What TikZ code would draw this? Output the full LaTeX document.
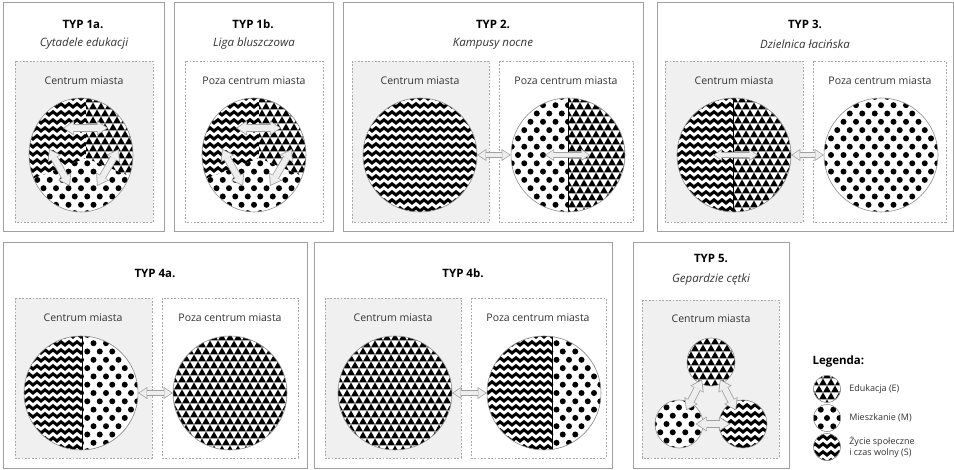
\documentclass[tikz,border=0pt]{standalone}
\usepackage{fontspec}
\setmainfont{Open Sans}
\usepackage{tikz}
\usetikzlibrary{shapes.geometric, arrows.meta, positioning, calc}

\definecolor{boxline}{HTML}{A0A0A0}
\definecolor{dashline}{HTML}{A8A8A8}
\definecolor{cityfill}{HTML}{F0F0F0}
\definecolor{ringline}{HTML}{8C8C8C}
\definecolor{flowline}{HTML}{A0A0A0}
\definecolor{flowfill}{HTML}{EEEEEE}
\definecolor{darktext}{HTML}{333333}

\tikzset{
  bigtip/.tip={Triangle[length=9pt,width=12pt,line width=0pt]},
  smalltip/.tip={Triangle[length=7pt,width=9.4pt,line width=0pt]},
  hugetip/.tip={Triangle[length=11pt,width=15pt,line width=0pt]},
  innertip/.tip={Triangle[length=9pt,width=12.2pt,line width=0pt]}
}

% pattern fills: centre x, centre y, half number of repeats
\newcommand{\patzig}[3]{%
  \begin{scope}[shift={(#1,#2)}]
    \fill[white] ({-9*#3},{-9*#3}) rectangle ({9*#3},{9*#3});
    \foreach \j in {-#3,...,#3}
      \draw[zigline] ({-8*#3-8},{8*\j}) \foreach \k in {-#3,...,#3} {-- ++(4,-3.2) -- ++(4,3.2)};
  \end{scope}}
\newcommand{\pattri}[3]{%
  \begin{scope}[shift={(#1,#2)}]
    \fill[white] ({-9*#3},{-9*#3}) rectangle ({9*#3},{9*#3});
    \foreach \j in {-#3,...,#3}
      \foreach \i in {-#3,...,#3}
        \fill ({8*\i+4*mod(abs(\j),2)-4},{7*\j+3.5}) -- ++(8,0) -- ++(-4,-7) -- cycle;
  \end{scope}}
\newcommand{\patdot}[3]{%
  \begin{scope}[shift={(#1,#2)}]
    \fill[white] ({-9*#3},{-9*#3}) rectangle ({9*#3},{9*#3});
    \foreach \j in {-#3,...,#3}
      \foreach \i in {-#3,...,#3}
        \fill ({12.5*\i+6.25*mod(abs(\j),2)},{8.3*\j}) circle (3pt);
  \end{scope}}

% one pattern in a disc: centre x, centre y, radius, pattern, repeats
\newcommand{\disc}[5]{%
  \begin{scope}
    \clip (#1,#2) circle (#3pt);
    #4{#1}{#2}{#5}
  \end{scope}}

% disc cut in two: centre x, centre y, radius, split x, left, right
\newcommand{\halves}[6]{%
  \begin{scope}
    \clip (#1,#2) circle (#3pt);
    #5{#1}{#2}{8}
    \begin{scope}
      \clip (#4,{#2-70}) rectangle ({#1+70},{#2+70});
      #6{#1}{#2}{8}
    \end{scope}
    \draw[split] (#4,{#2-70}) -- (#4,{#2+70});
  \end{scope}}

% disc cut in three (types 1a, 1b): name, centre x, centre y
\newcommand{\threeway}[3]{%
  \begin{scope}
    \clip (#2,#3) ellipse [x radius=52pt, y radius=57pt];
    \patdot{#2}{#3}{8}
    \begin{scope}
      \clip[shift={(#2,#3)}] (5,3) -- (5,-70) -- (-70,-70) -- (-70,32) -- cycle;
      \patzig{#2}{#3}{8}
    \end{scope}
    \begin{scope}
      \clip[shift={(#2,#3)}] (5,3) -- (5,-70) -- (70,-70) -- (70,30) -- cycle;
      \pattri{#2}{#3}{8}
    \end{scope}
  \end{scope}
  \node[ovalc] (c#1) at (#2,#3) {};
  \coordinate (zigE#1) at ([shift={(-18,-27)}]c#1.center);
  \coordinate (eduZ#1) at ([shift={(27,-27)}]c#1.center);
  \coordinate (zigM#1) at ([shift={(-32,-6)}]c#1.center);
  \coordinate (homZ#1) at ([shift={(-11,31)}]c#1.center);
  \coordinate (eduM#1) at ([shift={(38,-6)}]c#1.center);
  \coordinate (homE#1) at ([shift={(16,31)}]c#1.center);
  \draw[wideflow] (zigE#1) -- (eduZ#1);
  \draw[wideflow] (zigM#1) -- (homZ#1);
  \draw[wideflow] (eduM#1) -- (homE#1);}

\begin{document}
\begin{tikzpicture}[x=1pt, y=-1pt,
    panel/.style={draw=boxline, line width=0.9pt},
    city/.style={draw=dashline, fill=cityfill, line width=0.7pt, dash pattern=on 1.8pt off 1.6pt},
    outskirts/.style={city, fill=white},
    title/.style={font=\bfseries\fontsize{11.5}{13}\selectfont},
    subtitle/.style={font=\itshape\fontsize{11.5}{13}\selectfont, text=darktext},
    area/.style={font=\fontsize{10.5}{12}\selectfont, text=darktext},
    legtext/.style={font=\fontsize{9}{10.5}\selectfont, text=darktext, align=left},
    zigline/.style={black, line width=3pt},
    split/.style={black, line width=0.8pt},
    bigc/.style={circle, draw=ringline, line width=0.6pt, minimum size=114pt, inner sep=0pt},
    ovalc/.style={bigc, ellipse, minimum width=104pt, minimum height=114pt},
    smallc/.style={bigc, minimum size=48pt},
    legc/.style={bigc, minimum size=27pt},
    flow/.style={draw=flowline, line width=5.5pt, bigtip-bigtip,
      postaction={draw=flowfill, line width=3.9pt, shorten <=1.3pt, shorten >=1.3pt, smalltip-smalltip}},
    wideflow/.style={draw=flowline, line width=7.5pt, hugetip-hugetip,
      postaction={draw=flowfill, line width=5.9pt, shorten <=1.4pt, shorten >=1.4pt, innertip-innertip}}
]
\useasboundingbox (0,0) rectangle (954,470);
\fill[white] (0,0) rectangle (954,470);

% panels
\draw[panel] (3,2) rectangle (164,231);
\draw[panel] (174,2) rectangle (333,231);
\draw[panel] (343,2) rectangle (643,231);
\draw[panel] (657,2) rectangle (953,231);
\draw[panel] (3,242) rectangle (307,468);
\draw[panel] (314,242) rectangle (612,468);
\draw[panel] (633,242) rectangle (789,468);

% city centre / outskirts areas
\draw[city] (15,61) rectangle (153,222);
\draw[outskirts] (185,61) rectangle (323,222);
\draw[city] (352,61) rectangle (489,222);
\draw[outskirts] (499,61) rectangle (633,222);
\draw[city] (665,61) rectangle (803,222);
\draw[outskirts] (813,61) rectangle (946,222);
\draw[city] (15,298) rectangle (152,458);
\draw[outskirts] (162,298) rectangle (298,458);
\draw[city] (325,298) rectangle (461,458);
\draw[outskirts] (471,298) rectangle (606,458);
\draw[city] (642,300) rectangle (779,458);

% titles
\node[title] (t1a) at (83,24) {TYP 1a.};
\node[subtitle] (s1a) at (84,44) {Cytadele edukacji};
\node[area] (a1a) at (84,81) {Centrum miasta};
\node[title] (t1b) at (253,24) {TYP 1b.};
\node[subtitle] (s1b) at (254,44) {Liga bluszczowa};
\node[area] (a1b) at (254,81) {Poza centrum miasta};
\node[title] (t2) at (493,24) {TYP 2.};
\node[subtitle] (s2) at (493,44) {Kampusy nocne};
\node[area] (a2a) at (420,81) {Centrum miasta};
\node[area] (a2b) at (566,81) {Poza centrum miasta};
\node[title] (t3) at (805,24) {TYP 3.};
\node[subtitle] (s3) at (805,44) {Dzielnica łacińska};
\node[area] (a3a) at (734,81) {Centrum miasta};
\node[area] (a3b) at (880,81) {Poza centrum miasta};
\node[title] (t4a) at (155,273) {TYP 4a.};
\node[area] (a4aL) at (83,318) {Centrum miasta};
\node[area] (a4aR) at (230,318) {Poza centrum miasta};
\node[title] (t4b) at (463,273) {TYP 4b.};
\node[area] (a4bL) at (393,318) {Centrum miasta};
\node[area] (a4bR) at (538,318) {Poza centrum miasta};
\node[title] (t5) at (711,258) {TYP 5.};
\node[subtitle] (s5) at (711,280) {Gepardzie cętki};
\node[area] (a5) at (711,319) {Centrum miasta};

% type 1
\threeway{1a}{81}{155}
\threeway{1b}{254}{155}

% type 2
\disc{420}{155}{57}{\patzig}{8}
\node[bigc] (c2a) at (420,155) {};
\halves{568}{155}{57}{568}{\patdot}{\pattri}
\node[bigc] (c2b) at (568,155) {};
\coordinate (in2M) at ([xshift=-23pt]c2b.center);
\coordinate (in2E) at ([xshift=22pt]c2b.center);
\draw[flow] (c2a) -- (c2b);
\draw[flow] (in2M) -- (in2E);

% type 3
\halves{734}{155}{57}{733}{\patzig}{\pattri}
\node[bigc] (c3a) at (734,155) {};
\disc{881}{155}{57}{\patdot}{8}
\node[bigc] (c3b) at (881,155) {};
\coordinate (in3S) at ([xshift=-21pt]c3a.center);
\coordinate (in3E) at ([xshift=24pt]c3a.center);
\draw[flow] (c3a) -- (c3b);
\draw[flow] (in3S) -- (in3E);

% type 4a
\halves{81}{393}{57}{82}{\patzig}{\patdot}
\node[bigc] (c4aL) at (81,393) {};
\disc{230}{393}{57}{\pattri}{8}
\node[bigc] (c4aR) at (230,393) {};
\draw[flow] (c4aL) -- (c4aR);

% type 4b
\disc{395}{393}{57}{\pattri}{8}
\node[bigc] (c4bL) at (395,393) {};
\halves{544}{393}{57}{552}{\patzig}{\patdot}
\node[bigc] (c4bR) at (544,393) {};
\draw[flow] (c4bL) -- (c4bR);

% type 5
\disc{711}{362}{24}{\pattri}{4}
\node[smallc] (edu5) at (711,362) {};
\disc{679}{424}{24}{\patdot}{4}
\node[smallc] (hom5) at (679,424) {};
\disc{743}{424}{24}{\patzig}{4}
\node[smallc] (zig5) at (743,424) {};
\draw[wideflow] ($(edu5)!0.28!(hom5)$) -- ($(edu5)!0.78!(hom5)$);
\draw[wideflow] ($(edu5)!0.28!(zig5)$) -- ($(edu5)!0.78!(zig5)$);
\draw[wideflow] ($(hom5)!0.26!(zig5)$) -- ($(hom5)!0.8!(zig5)$);

% legend
\node[title, anchor=west] (leg) at (809,362) {Legenda:};
\disc{827}{389}{13.5}{\pattri}{2}
\node[legc] (legE) at (827,389) {};
\disc{827}{418}{13.5}{\patdot}{2}
\node[legc] (legM) at (827,418) {};
\disc{827}{447}{13.5}{\patzig}{2}
\node[legc] (legS) at (827,447) {};
\node[legtext, right=5pt of legE] (legEt) {Edukacja (E)};
\node[legtext, right=5pt of legM] (legMt) {Mieszkanie (M)};
\node[legtext, right=5pt of legS] (legSt) {Życie społeczne\\i czas wolny (S)};
\end{tikzpicture}
\end{document}
